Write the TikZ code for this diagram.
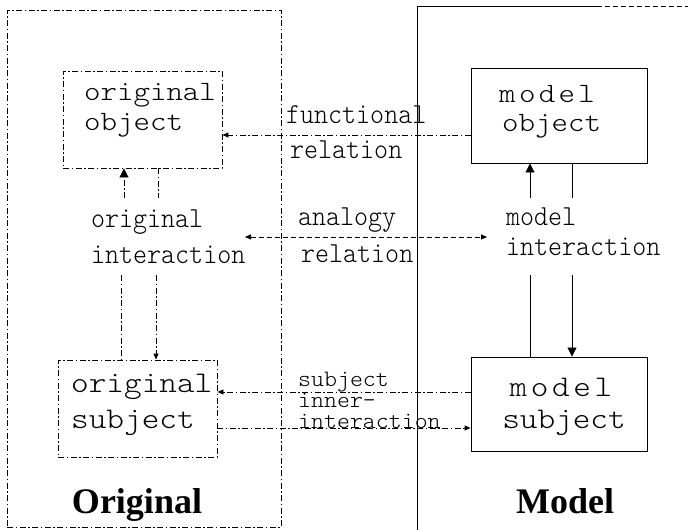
\documentclass[tikz,border=0pt]{standalone}
\usepackage{fontspec}
\setmainfont{Liberation Serif}
% thin typewriter faces for box texts and relation labels
\newfontfamily\boxfont{lmmonolt10-regular.otf}[FakeStretch=1.12]
\newfontfamily\modelfont{lmmonolt10-regular.otf}[FakeStretch=1.12,LetterSpace=12]
\newfontfamily\lblfont{lmmonolt10-regular.otf}[FakeStretch=0.92]
\newfontfamily\tightfont{lmmonolt10-regular.otf}[FakeStretch=1.05]
\usetikzlibrary{arrows.meta}

\begin{document}
\begin{tikzpicture}[x=1pt,y=-1pt,
  dd/.style={line width=0.9pt, dash pattern=on 6pt off 2.5pt on 1.5pt off 2.5pt},
  dsh/.style={line width=0.9pt, dash pattern=on 5pt off 3pt},
  sol/.style={line width=0.9pt},
  thn/.style={line width=0.6pt},
  bigtip/.style={-{Triangle[length=9pt,width=9pt]}},
  smalltip/.style={-{Triangle[length=6pt,width=5pt]}},
  objtxt/.style={font={\boxfont\fontsize{28}{30}\selectfont}, anchor=base west, inner sep=0pt},
  subtxt/.style={font={\boxfont\fontsize{30}{32}\selectfont}, anchor=base west, inner sep=0pt},
  lbl/.style={font={\lblfont\fontsize{29}{31}\selectfont}, anchor=base west, inner sep=0pt},
  sublbl/.style={font={\tightfont\fontsize{23.5}{25}\selectfont}, anchor=base west, inner sep=0pt, fill=white},
  title/.style={font={\bfseries\fontsize{36}{40}\selectfont}, anchor=base, inner sep=0pt},
  boxnode/.style={draw, inner sep=0pt}
]
\useasboundingbox (0,0) rectangle (688,530);

% left frame: the original
\node[boxnode, dd, minimum width=274pt, minimum height=517pt] (origframe) at (144,268.5) {};

% the four boxes
\node[boxnode, dd, minimum width=159pt, minimum height=97pt] (oo) at (142.5,119.5) {};
\node[boxnode, sol, minimum width=176pt, minimum height=95pt] (mo) at (559,115.5) {};
\node[boxnode, dd, minimum width=159pt, minimum height=97pt] (os) at (137.5,408.5) {};
\node[boxnode, sol, minimum width=176pt, minimum height=94pt] (ms) at (559,404) {};

% box texts
\node[objtxt] (oo1) at (84,100) {original};
\node[objtxt] (oo2) at (84,130) {object};
\node[objtxt, font={\modelfont\fontsize{28}{30}\selectfont}] (mo1) at (499,102) {model};
\node[objtxt] (mo2) at (502,131) {object};
\node[subtxt] (os1) at (71,392) {original};
\node[subtxt] (os2) at (71,428) {subject};
\node[subtxt, anchor=base, font={\modelfont\fontsize{30}{32}\selectfont}] (ms1) at (561,396) {model};
\node[subtxt, anchor=base] (ms2) at (564,428) {subject};

% original interaction
\coordinate (oiA) at (124,198);
\coordinate (oiB) at (158,198);
\coordinate (oiC) at (121,275);
\coordinate (oiD) at (156,275);
\draw[dd, bigtip] (oiA) -- (oiA |- oo.south);
\draw[dd] (oiB |- oo.south) -- (oiB);
\draw[dd] (oiC) -- (oiC |- os.north);
\draw[dd, smalltip] (oiD) -- (oiD |- os.north);

% model interaction
\coordinate (miA) at (530,198);
\coordinate (miB) at (572,198);
\coordinate (miC) at (530,275);
\coordinate (miD) at (572,275);
\draw[sol, bigtip] (miA) -- (miA |- mo.south);
\draw[thn] (miB |- mo.south) -- (miB);
\draw[sol] (miC) -- (miC |- ms.north);
\draw[thn, bigtip] (miD) -- (miD |- ms.north);

% functional relation
\coordinate (fr) at (0,135);
\draw[dd, smalltip] (mo.west |- fr) -- (oo.east |- fr);

% analogy relation
\coordinate (arL) at (245,237);
\coordinate (arR) at (487,237);
\draw[dsh, {Triangle[length=6pt,width=5pt]}-{Triangle[length=6pt,width=5pt]}] (arL) -- (arR);

% subject inner-interaction
\coordinate (sa) at (0,392);
\coordinate (sb) at (0,428);
\draw[dd, smalltip] (ms.west |- sa) -- (os.east |- sa);
\draw[dd, smalltip] (os.east |- sb) -- (ms.west |- sb);

% labels
\node[lbl] (fr1) at (286,123) {functional};
\node[lbl] (fr2) at (290,158) {relation};
\node[lbl] (ar1) at (298,225) {analogy};
\node[lbl] (ar2) at (301,262) {relation};
\node[lbl] (oi1) at (91,227) {original};
\node[lbl] (oi2) at (91,263) {interaction};
\node[lbl] (mi1) at (506,225) {model};
\node[lbl] (mi2) at (506,255) {interaction};
\node[sublbl] (si1) at (298,386) {subject};
\node[sublbl] (si2) at (298,407) {inner-};
\node[sublbl] (si3) at (298,428) {interaction};

% right frame: the model (open to the right and below)
\draw[sol] (597,6) -- (417,6) -- (417,530);
\draw[dsh] (597,6) -- (688,6);

% titles
\node[title] (tOrig) at (137,513) {Original};
\node[title] (tModel) at (565,513) {Model};
\end{tikzpicture}
\end{document}
